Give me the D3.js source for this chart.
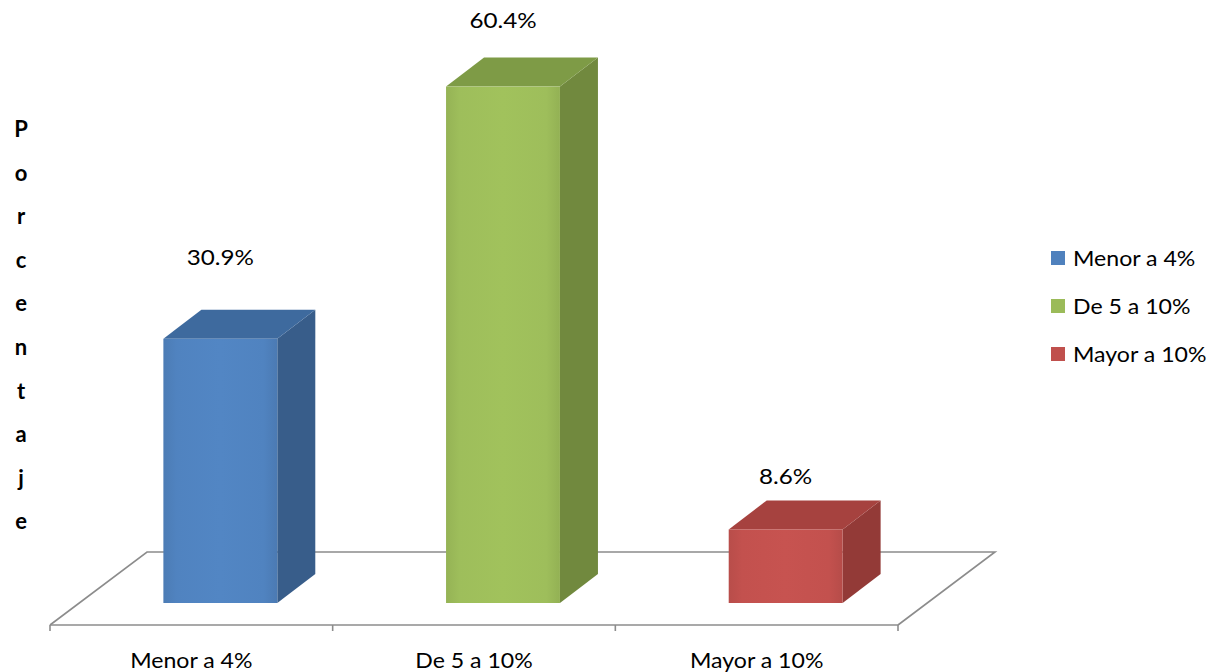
<!DOCTYPE html>
<html>
<head>
<meta charset="utf-8">
<script src="https://cdn.jsdelivr.net/npm/d3@7/dist/d3.min.js"></script>
<style>
  html, body { margin: 0; padding: 0; background: #fff; }
  svg { display: block; }
  text { font-family: Lato, "Open Sans", sans-serif; fill: #000; }
</style>
</head>
<body>
<svg id="chart" width="1225" height="672"></svg>
<script>
// Chart data
const categories = ["Menor a 4%", "De 5 a 10%", "Mayor a 10%"];
const values = [30.9, 60.4, 8.6];
const valueLabels = ["30.9%", "60.4%", "8.6%"];
const axisTitle = "Porcentaje";

// Face colours for each bar: front, top, side
const frontColors = ["#4f81bd", "#9bbb59", "#c0504d"];
const topColors = ["#3e6a9e", "#7e9b46", "#a6423f"];
const sideColors = ["#385d8a", "#71893e", "#933a37"];

// Layout
const W = 1225, H = 672;
const floorLeft = 50, floorRight = 898, floorFrontY = 625;
const floorDX = 97, floorDY = -73;        // depth of the floor plane
const barDX = 38, barDY = -29;            // depth of each box
const barOffX = 29, barOffY = -22;        // boxes sit in the middle of the floor
const barWidthRatio = 0.403;
const labelLift = [45, 30, 16];           // data label distance above box top
const textStretch = 1.1;                  // wide label lettering

const svg = d3.select("#chart");

const x = d3.scaleBand().domain(categories).range([floorLeft, floorRight]).padding(0);
const baseY = floorFrontY + barOffY;
const y = d3.scaleLinear().domain([0, 70]).range([baseY, baseY - 598.5]);

// Floor plane outline
const floor = svg.append("g").attr("fill", "none").attr("stroke", "#8c8c8c").attr("stroke-width", 1.6);
floor.append("path").attr("d", d3.line()([
  [floorLeft, floorFrontY],
  [floorLeft + floorDX, floorFrontY + floorDY],
  [floorRight + floorDX, floorFrontY + floorDY],
  [floorRight, floorFrontY]
]));
floor.append("line")
  .attr("x1", floorLeft).attr("x2", floorRight)
  .attr("y1", floorFrontY).attr("y2", floorFrontY);

// Category tick marks on the band boundaries
const tickXs = categories.map(c => x(c)).concat([x.range()[1]]);
floor.selectAll("line.tick").data(tickXs).join("line")
  .attr("class", "tick")
  .attr("x1", d => d).attr("x2", d => d)
  .attr("y1", floorFrontY).attr("y2", floorFrontY + 6);

// Subtle horizontal shading on the front faces
const defs = svg.append("defs");
frontColors.forEach((c, i) => {
  const g = defs.append("linearGradient").attr("id", "front" + i)
    .attr("x1", "0").attr("x2", "1").attr("y1", "0").attr("y2", "0");
  const base = d3.color(c);
  g.append("stop").attr("offset", "0").attr("stop-color", base.darker(0.12));
  g.append("stop").attr("offset", "0.12").attr("stop-color", base.brighter(0.05));
  g.append("stop").attr("offset", "0.5").attr("stop-color", base.brighter(0.1));
  g.append("stop").attr("offset", "0.88").attr("stop-color", base.brighter(0.05));
  g.append("stop").attr("offset", "1").attr("stop-color", base.darker(0.15));
});

// 3D boxes
const barW = x.bandwidth() * barWidthRatio;
const bars = svg.append("g").selectAll("g").data(values).join("g");

bars.each(function (v, i) {
  const g = d3.select(this);
  const x0 = x(categories[i]) + (x.bandwidth() - barW) / 2 + barOffX;
  const x1 = x0 + barW;
  const yt = y(v), yb = y(0);
  // side face
  g.append("path")
    .attr("d", d3.line()([[x1, yt], [x1 + barDX, yt + barDY], [x1 + barDX, yb + barDY], [x1, yb]]) + "Z")
    .attr("fill", sideColors[i]);
  // top face
  g.append("path")
    .attr("d", d3.line()([[x0, yt], [x0 + barDX, yt + barDY], [x1 + barDX, yt + barDY], [x1, yt]]) + "Z")
    .attr("fill", topColors[i]);
  // front face
  g.append("rect")
    .attr("x", x0).attr("y", yt)
    .attr("width", barW).attr("height", yb - yt)
    .attr("fill", `url(#front${i})`);
  // value label
  const cx = x0 + barW / 2;
  g.append("text")
    .attr("transform", `translate(${cx},${yt + barDY - labelLift[i]}) scale(${textStretch},1)`)
    .attr("text-anchor", "middle")
    .attr("font-size", 22)
    .text(valueLabels[i]);
});

// Category labels below the floor
svg.append("g").selectAll("text").data(categories).join("text")
  .attr("transform", d => `translate(${x(d) + x.bandwidth() / 2},668) scale(${textStretch},1)`)
  .attr("text-anchor", "middle")
  .attr("font-size", 21)
  .text(d => d);

// Vertical axis title, one letter per line
svg.append("g").selectAll("text").data(axisTitle.split("")).join("text")
  .attr("x", 21)
  .attr("y", (d, i) => 137 + i * 43.6)
  .attr("text-anchor", "middle")
  .attr("font-size", 22)
  .attr("font-weight", "bold")
  .text(d => d);

// Legend
const legend = svg.append("g").attr("transform", "translate(1051,251)");
const rows = legend.selectAll("g").data(categories).join("g")
  .attr("transform", (d, i) => `translate(0,${i * 48})`);
rows.append("rect").attr("width", 14).attr("height", 14)
  .attr("fill", (d, i) => frontColors[i]);
rows.append("text")
  .attr("transform", `translate(22,15) scale(${textStretch},1)`)
  .attr("font-size", 21)
  .text(d => d);
</script>
</body>
</html>
